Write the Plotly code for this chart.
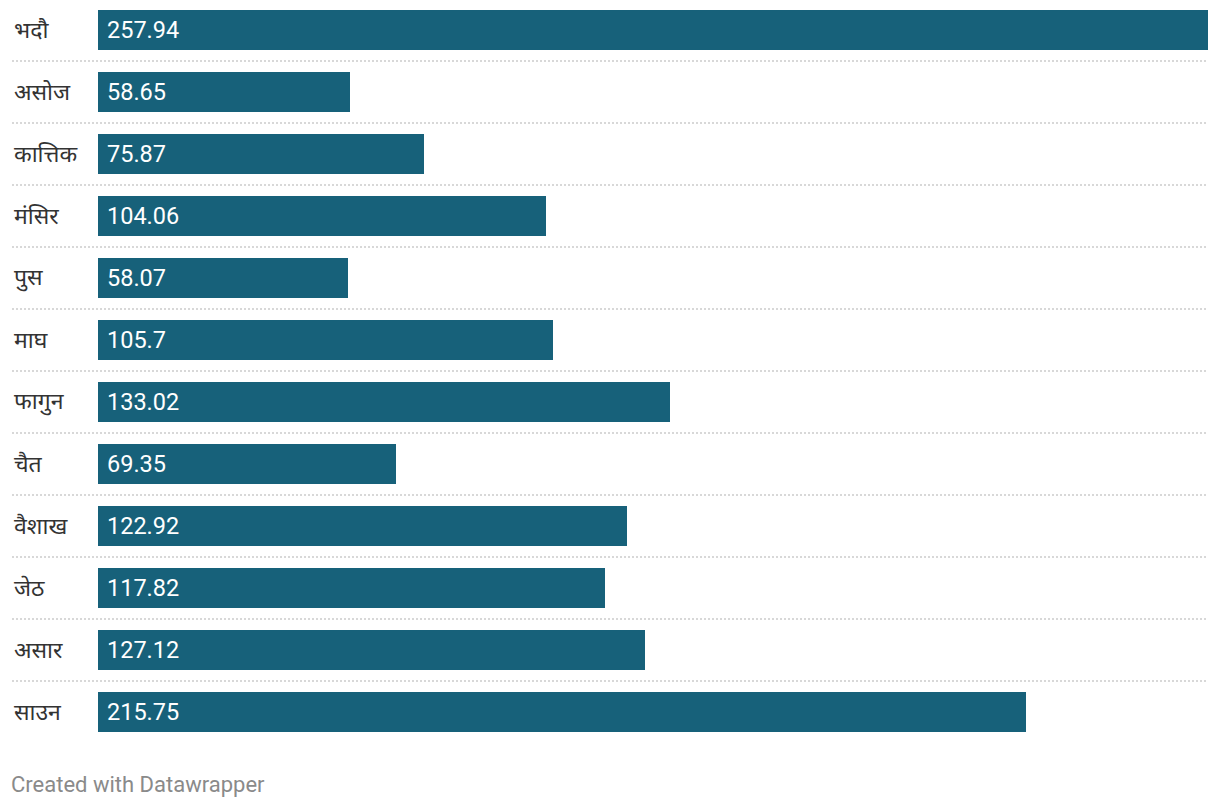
import plotly.graph_objects as go

months = ["भदौ", "असोज", "कात्तिक", "मंसिर", "पुस", "माघ", "फागुन", "चैत", "वैशाख", "जेठ", "असार", "साउन"]
values = [257.94, 58.65, 75.87, 104.06, 58.07, 105.7, 133.02, 69.35, 122.92, 117.82, 127.12, 215.75]
value_labels = ["257.94", "58.65", "75.87", "104.06", "58.07", "105.7", "133.02", "69.35", "122.92", "117.82", "127.12", "215.75"]
footer = "Created with Datawrapper"

W, H = 1220, 808
OFF = 8  # page body margin
BAR_COLOR = "#17617a"
FONT = "Roboto, 'Noto Sans', sans-serif"

idx = list(range(len(months)))

fig = go.Figure(go.Bar(
    x=values, y=idx, orientation="h",
    marker=dict(color=BAR_COLOR, line=dict(width=0)),
    width=40/62, hoverinfo="skip",
))

# pixel mapping (figure coords): row center = 30 - OFF + 62*i
c0 = 30 - OFF
y_top = -c0/62
y_bot = (H - c0)/62

annotations = []
for i, (m, lab) in enumerate(zip(months, value_labels)):
    annotations.append(dict(x=(12-OFF)/W, xref="paper", y=i, yref="y", text=m, showarrow=False,
                            xanchor="left", yanchor="middle",
                            font=dict(family=FONT, size=23, color="#333333")))
    annotations.append(dict(x=0, xref="x", y=i, yref="y", text=lab, showarrow=False,
                            xanchor="left", yanchor="middle", xshift=7,
                            font=dict(family=FONT, size=23.5, color="#ffffff")))
annotations.append(dict(x=(9-OFF)/W, xref="paper", y=(H-(784-OFF))/H, yref="paper", text=footer, showarrow=False,
                        xanchor="left", yanchor="middle",
                        font=dict(family=FONT, size=22, color="#8a8a8a")))

shapes = []
for i in range(len(months) - 1):
    shapes.append(dict(type="line", xref="paper", yref="y", x0=(12-OFF)/W, x1=(1208-OFF)/W, y0=i+0.5, y1=i+0.5,
                       line=dict(color="#cccccc", width=1.5, dash="2px,2px")))

fig.update_layout(
    width=W, height=H, margin=dict(l=0, r=0, t=0, b=0),
    paper_bgcolor="white", plot_bgcolor="white",
    showlegend=False,
    xaxis=dict(domain=[(98-OFF)/W, (1208-OFF)/W], range=[0, max(values)], visible=False, fixedrange=True),
    yaxis=dict(domain=[0, 1], range=[y_bot, y_top], visible=False, fixedrange=True),
    annotations=annotations, shapes=shapes, bargap=0,
)

fig.write_html("out.html", config={"displayModeBar": False})
